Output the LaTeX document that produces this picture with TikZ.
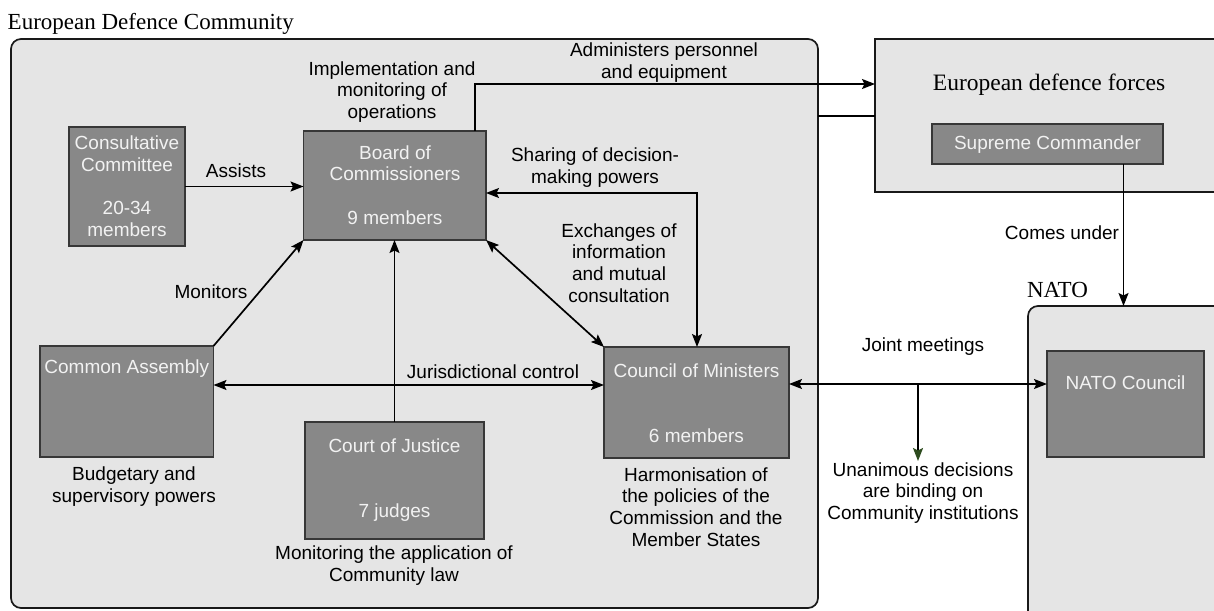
\documentclass[tikz,border=0pt]{standalone}
\usepackage{fontspec}
\setmainfont{Liberation Serif}
\setsansfont{Liberation Sans}
\usetikzlibrary{arrows.meta}
\definecolor{lightbg}{RGB}{229,229,229}
\definecolor{darkfill}{RGB}{136,136,136}
\definecolor{darkborder}{RGB}{55,55,55}
\definecolor{tipgreen}{RGB}{45,75,30}
\begin{document}
\begin{tikzpicture}[x=1pt,y=-1pt,
  every node/.style={inner sep=0pt, outer sep=0pt},
  bigbox/.style={draw=black!90, line width=1.7pt, fill=lightbg, rectangle},
  darkbox/.style={draw=darkborder, line width=1.6pt, fill=darkfill, rectangle},
  boxtext/.style={font=\sffamily\fontsize{19}{21.7}\selectfont, text=white!95!black, align=center},
  lbl/.style={font=\sffamily\fontsize{19}{21.7}\selectfont, text=black, align=center},
  ttl/.style={font=\rmfamily\fontsize{23}{26}\selectfont, text=black},
  conn/.style={line width=1.7pt, draw=black},
  tip/.style={-{Stealth[length=13pt,width=10pt,inset=2.5pt]}},
  dtip/.style={{Stealth[length=13pt,width=10pt,inset=2.5pt]}-{Stealth[length=13pt,width=10pt,inset=2.5pt]}},
  gtip/.style={-{Stealth[length=13pt,width=10pt,inset=2.5pt,color=tipgreen,fill=tipgreen]}}
]
\useasboundingbox (0,0) rectangle (1214,610);
\fill[white] (0,0) rectangle (1214,610);

% big containers
\node[bigbox, rounded corners=10pt, minimum width=807pt, minimum height=569pt] (edc) at (414.5,323.5) {};
\node[bigbox, minimum width=345pt, minimum height=153pt] (edf) at (1047.5,115.5) {};
\node[bigbox, rounded corners=10pt, minimum width=197pt, minimum height=319pt] (nato) at (1126.5,465.5) {};

% titles
\node[ttl, anchor=base west] (title) at (7.7,30) {European Defence Community};
\node[ttl, font=\rmfamily\fontsize{23.5}{27}\selectfont, anchor=base] (edftitle) at (1049,90) {European defence forces};
\node[ttl, anchor=base] (natotitle) at (1057.5,297) {NATO};

% dark boxes
\node[darkbox, minimum width=116pt, minimum height=119pt] (cc) at (127,186.5) {};
\node[darkbox, minimum width=182.5pt, minimum height=109pt] (board) at (394.75,185.5) {};
\node[darkbox, minimum width=173.5pt, minimum height=111pt] (assembly) at (126.75,401.5) {};
\node[darkbox, minimum width=179pt, minimum height=117pt] (court) at (394.5,480.5) {};
\node[darkbox, minimum width=185pt, minimum height=111pt] (council) at (696.5,402.5) {};
\node[darkbox, minimum width=231pt, minimum height=40pt] (sc) at (1047.5,144) {};
\node[darkbox, minimum width=157pt, minimum height=106pt] (natocouncil) at (1125.5,404) {};

% texts in dark boxes
\node[boxtext] (cctext) at (127,186) {Consultative\\Committee\\[21.7pt]20-34\\members};
\node[boxtext] (boardtext) at (395,185) {Board of\\Commissioners\\[21.7pt]9 members};
\node[boxtext] (courttext) at (394.5,480) {Court of Justice\\[43.4pt]7 judges};
\node[boxtext] (counciltext) at (696.5,403) {Council of Ministers\\[43.4pt]6 members};
\node[boxtext] (assemblytext) at (126.75,369) {Common Assembly};
\node[boxtext] (natocounciltext) at (1125.5,383) {NATO Council};
\node[boxtext] (sctext) at (1047.5,145) {Supreme Commander};

% labels
\node[lbl] (impl) at (392,92) {Implementation and\\monitoring of\\operations};
\node[lbl] (admin) at (664,62.5) {Administers personnel\\and equipment};
\node[lbl] (sharing) at (595,167.5) {Sharing of decision-\\making powers};
\node[lbl] (exch) at (619,263) {Exchanges of\\information\\and mutual\\consultation};
\node[lbl] (assists) at (236,171) {Assists};
\node[lbl] (monitors) at (211,292) {Monitors};
\node[lbl] (jurid) at (493,372) {Jurisdictional control};
\node[lbl] (budget) at (134,486.5) {Budgetary and\\supervisory powers};
\node[lbl] (monapp) at (394,565.5) {Monitoring the application of\\Community law};
\node[lbl] (harm) at (696,507) {Harmonisation of\\the policies of the\\Commission and the\\Member States};
\node[lbl] (joint) at (923,347) {Joint meetings};
\node[lbl] (unan) at (923,493) {Unanimous decisions\\are binding on\\Community institutions};
\node[lbl] (comes) at (1062,233) {Comes under};

% helper coordinates
\coordinate (jc) at (400,385);
\coordinate (sh) at (697,193);
\coordinate (ad) at (475,84);
\coordinate (lk) at (840,116);
\coordinate (cu) at (1123.5,230);
\coordinate (jm) at (900,384);
\coordinate (ud) at (918,384);
\coordinate (udend) at (918,461);

% connectors
\draw[conn, tip] (cc.east) -- (cc.east -| board.west);
\draw[conn, tip] (assembly.north east) -- (board.south west);
\draw[conn, tip] (court.north) -- (court.north |- board.south);
\draw[conn, dtip] (board.south east) -- (council.north west);
\draw[conn, dtip] (jc -| assembly.east) -- (jc -| council.west);
\draw[conn, dtip] (sh -| board.east) -- (sh) -- (sh |- council.north);
\draw[conn, tip] (ad |- board.north) -- (ad) -- (ad -| edf.west);
\draw[conn] (lk -| edc.east) -- (lk -| edf.west);
\draw[conn, tip] (cu |- sc.south) -- (cu |- nato.north);
\draw[conn, dtip] (jm -| council.east) -- (jm -| natocouncil.west);
\draw[conn, gtip] (ud) -- (udend);
\end{tikzpicture}
\end{document}
